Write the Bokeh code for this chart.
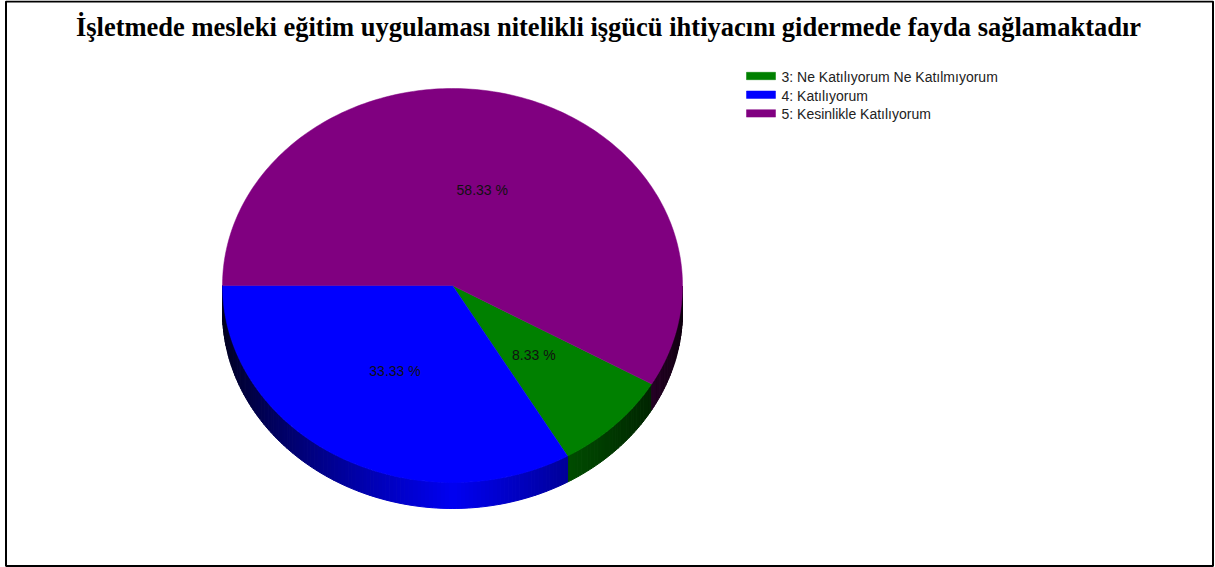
import numpy as np
from bokeh.plotting import figure
from bokeh.models import Range1d, ColumnDataSource
from bokeh.core.properties import value
from bokeh.embed import file_html
from bokeh.resources import INLINE

# ---- data ----
title = "İşletmede mesleki eğitim uygulaması nitelikli işgücü ihtiyacını gidermede fayda sağlamaktadır"
categories = ["3: Ne Katılıyorum Ne Katılmıyorum", "4: Katılıyorum", "5: Kesinlikle Katılıyorum"]
percents = [8.33, 33.33, 58.33]
labels = ["8.33 %", "33.33 %", "58.33 %"]
colors = ["#008000", "#0000FF", "#800080"]

# ---- layout / style ----
W, H = 1215, 567
cx, cy, rx, ry, depth = 452, 285, 230, 197, 26
start_angle = -30.0  # degrees, slices run clockwise

p = figure(width=W, height=H, x_range=Range1d(0, W), y_range=Range1d(H, 0),
           output_backend="svg", toolbar_location=None, min_border=0)
p.axis.visible = False
p.grid.visible = False
p.outline_line_color = None
p.background_fill_color = "white"
p.border_fill_color = "white"

# frame
p.quad(left=[5.5], right=[1212.5], top=[1], bottom=[565.5], fill_color=None,
       line_color="black", line_width=2)


def hex_to_rgb(h):
    h = h.lstrip("#")
    return np.array([int(h[i:i + 2], 16) for i in (0, 2, 4)], dtype=float)


def shade(h, b):
    r, g, bl = np.clip(hex_to_rgb(h) * b, 0, 255).astype(int)
    return "#%02x%02x%02x" % (r, g, bl)


def pt(theta_deg, dy=0.0, f=1.0):
    t = np.radians(theta_deg)
    return cx + f * rx * np.cos(t), cy - f * ry * np.sin(t) + dy


fr = np.array(percents) / sum(percents)
ends = start_angle - 360 * np.cumsum(fr)
starts = np.concatenate([[start_angle], ends[:-1]])

# ---- side walls (3D depth) ----
sx, sy, sc = [], [], []
for i in range(len(percents)):
    a0, a1 = starts[i], ends[i]
    n = int(np.ceil(abs(a0 - a1) / 1.0))
    th = np.linspace(a0, a1, n + 1)
    for k in range(n):
        ta, tb = th[k], th[k + 1]
        mid = 0.5 * (ta + tb)
        if np.sin(np.radians(mid)) >= 0:
            continue
        c = abs(np.cos(np.radians(mid)))
        b = 0.12 + 0.83 * (1 - c) ** 0.8
        xa, ya = pt(ta)
        xb, yb = pt(tb)
        sx.append([xa, xb, xb, xa])
        sy.append([ya, yb, yb + depth, ya + depth])
        sc.append(shade(colors[i], b))

p.patches(xs="xs", ys="ys", fill_color="c", line_color="c", line_width=1,
          source=ColumnDataSource(dict(xs=sx, ys=sy, c=sc)))

# ---- top faces ----
tx, ty = [], []
for i in range(len(percents)):
    th = np.linspace(starts[i], ends[i], 200)
    x, y = pt(th)
    tx.append([cx] + list(x))
    ty.append([cy] + list(y))
p.patches(xs="xs", ys="ys", fill_color="c", line_color="c", line_width=0.5,
          source=ColumnDataSource(dict(xs=tx, ys=ty, c=colors)))

# ---- slice labels ----
mids = 0.5 * (starts + ends)
lx, ly = pt(mids, f=0.5)
p.text(x=list(lx), y=list(ly), text=labels, text_font=value("Liberation Sans"),
       text_font_size="14px", text_align="center", text_baseline="middle",
       text_color="#111111")

# ---- title ----
p.text(x=[608], y=[26], text=[title], text_font=value("Liberation Serif"),
       text_font_style="bold", text_font_size="26.5px", text_align="center",
       text_baseline="alphabetic", text_color="black")

# ---- legend ----
ly0, lstep = 75.5, 18.7
rows = [ly0 + i * lstep for i in range(len(categories))]
p.quad(left=[746] * len(rows), right=[775] * len(rows),
       top=[r - 3.7 for r in rows], bottom=[r + 3.7 for r in rows],
       fill_color=colors, line_color=colors, line_width=0.5)
p.text(x=[781] * len(rows), y=[r + 1 for r in rows], text=categories,
       text_font=value("Liberation Sans"), text_font_size="14px",
       text_align="left", text_baseline="middle", text_color="#222222")

open("out.html", "w").write(file_html(p, INLINE))
